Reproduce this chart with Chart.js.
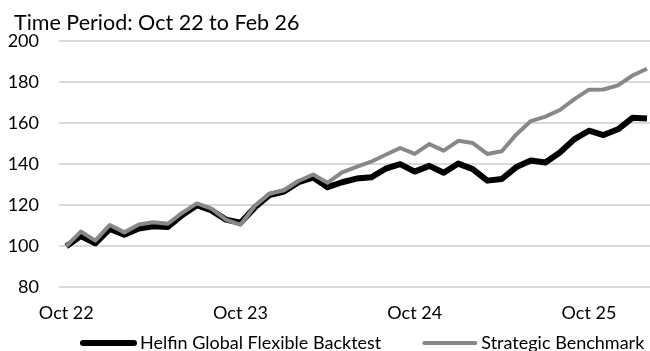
<!DOCTYPE html>
<html>
<head>
<meta charset="utf-8">
<script src="https://cdn.jsdelivr.net/npm/chart.js@4.4.1/dist/chart.umd.min.js"></script>
<style>
  html, body { margin: 0; padding: 0; background: #fff; overflow: hidden; }
  #wrap { position: relative; width: 662px; height: 351px; }
</style>
</head>
<body>
<div id="wrap"><canvas id="perfChart"></canvas></div>
<script>
const titleText = "Time Period: Oct 22 to Feb 26";

const months = [
  "Oct 22", "Nov 22", "Dec 22",
  "Jan 23", "Feb 23", "Mar 23", "Apr 23", "May 23", "Jun 23", "Jul 23", "Aug 23", "Sep 23", "Oct 23", "Nov 23", "Dec 23",
  "Jan 24", "Feb 24", "Mar 24", "Apr 24", "May 24", "Jun 24", "Jul 24", "Aug 24", "Sep 24", "Oct 24", "Nov 24", "Dec 24",
  "Jan 25", "Feb 25", "Mar 25", "Apr 25", "May 25", "Jun 25", "Jul 25", "Aug 25", "Sep 25", "Oct 25", "Nov 25", "Dec 25",
  "Jan 26", "Feb 26",
];
const shownMonths = ["Oct 22", "Oct 23", "Oct 24", "Oct 25"];

const helfinBacktest = [
  100, 105, 101.5, 108.5, 105.7, 108.7, 109.8, 109.4, 115.3, 120,
  117.5, 113, 111.5, 119, 125, 126.7, 131.2, 133.5, 128.8, 131.2,
  133, 133.6, 137.8, 140, 136.4, 139.2, 135.8, 140.3, 137.6, 132,
  132.8, 138.6, 141.8, 140.8, 145.7, 152.2, 156.3, 154.2, 157, 162.6,
  162.3,
];
const strategicBenchmark = [
  100, 107.2, 102.8, 110.4, 106.8, 110.6, 111.7, 111, 116.4, 120.9,
  118.4, 113, 110.5, 119.8, 125.6, 127.3, 131.8, 135, 131, 136,
  138.7, 141.2, 144.6, 147.9, 145, 149.8, 146.6, 151.4, 150.3, 145,
  146.3, 154.5, 161, 163.2, 166.4, 171.7, 176.3, 176.4, 178.4, 183.2,
  186.5,
];

const yMin = 80;
const yMax = 200;
const yStep = 20;

const FONT = "Lato, 'Liberation Sans', sans-serif";
Chart.defaults.font.family = FONT;
Chart.defaults.color = "#000";

// title + line legend, drawn like the original (short thick line, then label)
const textPlugin = {
  id: "titleAndLegend",
  afterDraw(chart) {
    const ctx = chart.ctx;
    ctx.save();
    ctx.fillStyle = "#000";
    ctx.textBaseline = "middle";
    ctx.font = "21.5px " + FONT;
    ctx.fillText(titleText, 14, 23);

    ctx.font = "18px " + FONT;
    let x = 80;
    const y = 343;
    chart.data.datasets.forEach((ds) => {
      ctx.strokeStyle = ds.borderColor;
      ctx.lineWidth = ds.legendLine;
      ctx.lineCap = "round";
      ctx.beginPath();
      ctx.moveTo(x + 3, y);
      ctx.lineTo(x + 54, y);
      ctx.stroke();
      ctx.fillText(ds.label, x + 60, y);
      x += 60 + ctx.measureText(ds.label).width + 40;
    });
    ctx.restore();
  },
};

const ctx = document.getElementById("perfChart").getContext("2d");
new Chart(ctx, {
  type: "line",
  data: {
    labels: months,
    datasets: [
      {
        label: "Helfin Global Flexible Backtest",
        data: helfinBacktest,
        borderColor: "#000000",
        backgroundColor: "#000000",
        borderWidth: 6,
        pointRadius: 0,
        borderJoinStyle: "round",
        order: 1,
        legendLine: 6,
      },
      {
        label: "Strategic Benchmark",
        data: strategicBenchmark,
        borderColor: "#888888",
        backgroundColor: "#888888",
        borderWidth: 4,
        pointRadius: 0,
        borderJoinStyle: "round",
        order: 0,
        legendLine: 4,
      },
    ],
  },
  options: {
    responsive: true,
    maintainAspectRatio: false,
    animation: false,
    layout: { padding: { left: 0, right: 0, top: 41, bottom: 12 } },
    plugins: {
      tooltip: { enabled: false },
      title: { display: false },
      legend: { display: false },
    },
    scales: {
      x: {
        offset: true,
        grid: { display: false, drawTicks: false },
        border: { display: false },
        ticks: {
          autoSkip: false,
          maxRotation: 0,
          padding: 15,
          font: { size: 18 },
          callback: (val, idx) => (shownMonths.includes(months[idx]) ? months[idx] : ""),
        },
      },
      y: {
        min: yMin,
        max: yMax,
        ticks: { stepSize: yStep, padding: 20, font: { size: 18 } },
        grid: { color: "#d9d9d9", lineWidth: 2, drawTicks: false },
        border: { display: false },
        afterFit: (scale) => {
          scale.width = 59;
        },
      },
    },
  },
  plugins: [textPlugin],
});
</script>
</body>
</html>
